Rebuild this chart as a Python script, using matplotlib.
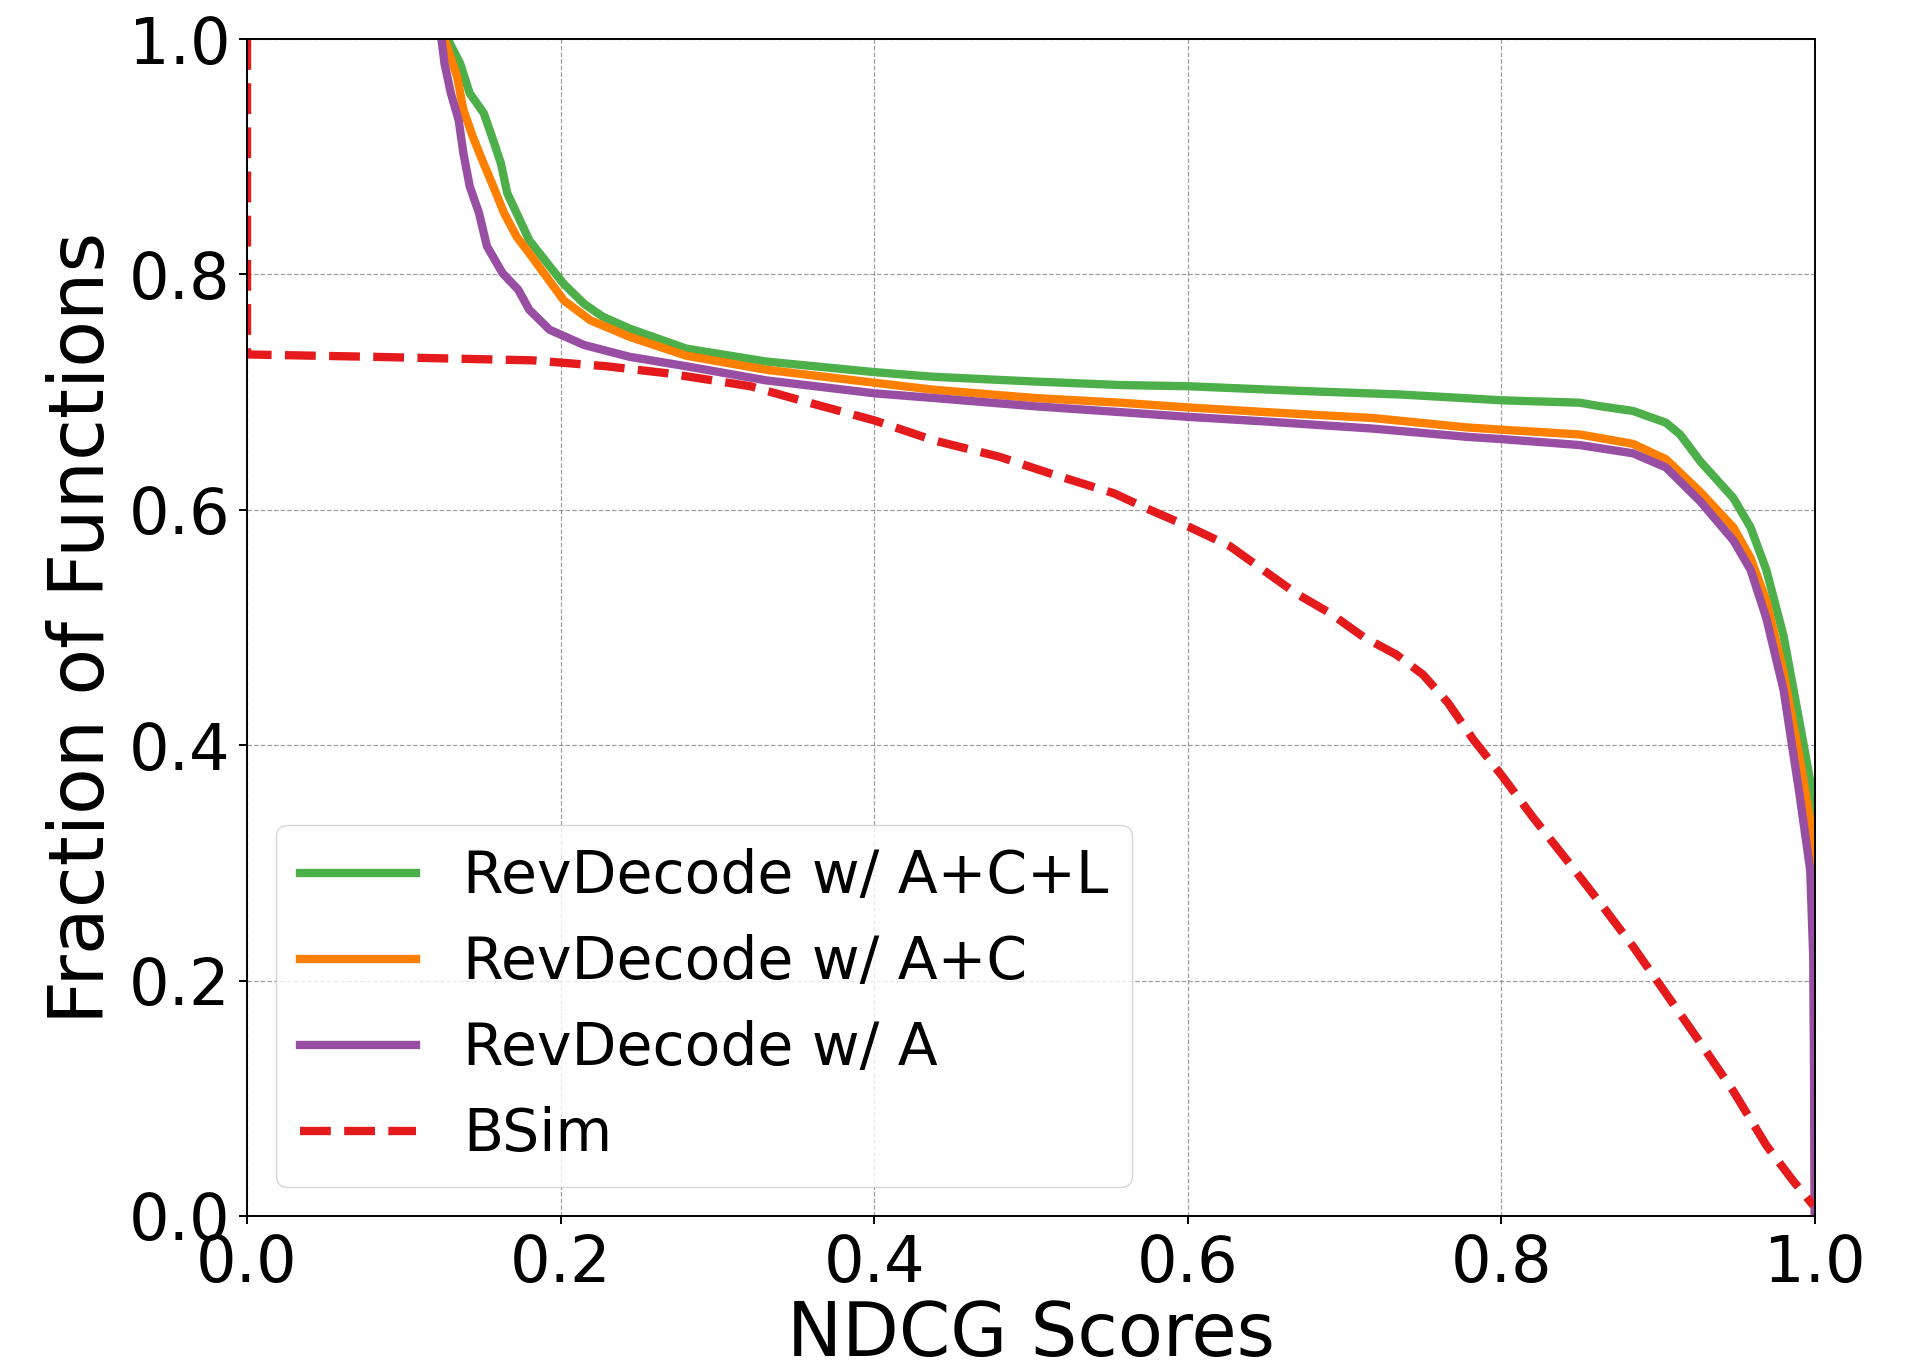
import matplotlib
matplotlib.use("Agg")
import matplotlib.pyplot as plt

# survival curves: fraction of functions with NDCG >= x
acl_x = [0.128, 0.136, 0.142, 0.151, 0.157, 0.162, 0.166, 0.172, 0.180, 0.193,
         0.202, 0.215, 0.227, 0.244, 0.280, 0.331, 0.400, 0.438, 0.502, 0.557,
         0.600, 0.672, 0.735, 0.801, 0.850, 0.863, 0.884, 0.905, 0.914, 0.927,
         0.948, 0.959, 0.969, 0.980, 0.990, 0.999, 1.000]
acl_y = [1.000, 0.979, 0.954, 0.937, 0.914, 0.894, 0.869, 0.852, 0.829, 0.807,
         0.792, 0.775, 0.764, 0.754, 0.737, 0.726, 0.717, 0.713, 0.709, 0.706,
         0.705, 0.701, 0.698, 0.693, 0.691, 0.688, 0.684, 0.674, 0.664, 0.641,
         0.610, 0.585, 0.549, 0.493, 0.421, 0.355, 0.000]

ac_x = [0.126, 0.134, 0.138, 0.144, 0.151, 0.157, 0.164, 0.172, 0.180, 0.191,
        0.202, 0.219, 0.244, 0.280, 0.331, 0.400, 0.438, 0.502, 0.557, 0.600,
        0.650, 0.718, 0.778, 0.801, 0.850, 0.863, 0.884, 0.905, 0.927, 0.948,
        0.959, 0.969, 0.980, 0.990, 0.999, 1.000]
ac_y = [1.000, 0.968, 0.940, 0.917, 0.894, 0.875, 0.852, 0.832, 0.818, 0.798,
        0.778, 0.761, 0.747, 0.731, 0.719, 0.708, 0.702, 0.695, 0.691, 0.687,
        0.683, 0.678, 0.670, 0.668, 0.664, 0.661, 0.656, 0.643, 0.615, 0.585,
        0.559, 0.523, 0.462, 0.391, 0.320, 0.000]

a_x = [0.124, 0.126, 0.130, 0.135, 0.138, 0.142, 0.148, 0.153, 0.163, 0.173,
       0.180, 0.193, 0.215, 0.244, 0.280, 0.331, 0.400, 0.438, 0.502, 0.557,
       0.600, 0.650, 0.718, 0.778, 0.801, 0.850, 0.884, 0.905, 0.927, 0.948,
       0.959, 0.969, 0.980, 0.990, 0.997, 0.999, 1.000]
a_y = [1.000, 0.979, 0.954, 0.931, 0.903, 0.875, 0.852, 0.824, 0.801, 0.787,
       0.770, 0.753, 0.740, 0.730, 0.722, 0.710, 0.699, 0.695, 0.688, 0.683,
       0.679, 0.675, 0.669, 0.662, 0.660, 0.655, 0.648, 0.636, 0.607, 0.574,
       0.549, 0.508, 0.447, 0.360, 0.294, 0.218, 0.000]

bsim_x = [0.000, 0.000, 0.080, 0.182, 0.229, 0.268, 0.321, 0.353, 0.400, 0.438,
          0.480, 0.512, 0.553, 0.574, 0.600, 0.627, 0.648, 0.669, 0.691, 0.712,
          0.733, 0.750, 0.766, 0.782, 0.801, 0.820, 0.842, 0.863, 0.884, 0.905,
          0.927, 0.948, 0.969, 0.986, 0.999]
bsim_y = [1.000, 0.732, 0.730, 0.727, 0.722, 0.716, 0.705, 0.693, 0.676, 0.659,
          0.645, 0.631, 0.614, 0.601, 0.586, 0.569, 0.549, 0.529, 0.512, 0.492,
          0.477, 0.460, 0.436, 0.405, 0.373, 0.339, 0.302, 0.266, 0.229, 0.189,
          0.147, 0.106, 0.060, 0.030, 0.009]

labels = ["RevDecode w/ A+C+L", "RevDecode w/ A+C", "RevDecode w/ A", "BSim"]

fig = plt.figure(figsize=(19.06, 13.65), dpi=100)
ax = fig.add_axes([0.1296, 0.1092, 0.8226, 0.8622])

lw = 6
ax.plot(acl_x, acl_y, color="#4daf4a", lw=lw, label=labels[0])
ax.plot(ac_x, ac_y, color="#ff7f00", lw=lw, label=labels[1])
ax.plot(a_x, a_y, color="#984ea3", lw=lw, label=labels[2])
ax.plot(bsim_x, bsim_y, color="#e41a1c", lw=lw, ls="--", label=labels[3])

ax.set_xlim(0, 1)
ax.set_ylim(0, 1)
ax.set_xticks([0.0, 0.2, 0.4, 0.6, 0.8, 1.0])
ax.set_yticks([0.0, 0.2, 0.4, 0.6, 0.8, 1.0])
ax.tick_params(labelsize=46, length=6, width=1.4, pad=6)
for s in ax.spines.values():
    s.set_linewidth(1.4)

ax.grid(True, linestyle="--", linewidth=0.9, color="gray", alpha=0.75)
ax.set_xlabel("NDCG Scores", fontsize=53, labelpad=3)
ax.set_ylabel("Fraction of Functions", fontsize=55, labelpad=6)

ax.legend(loc="lower left", fontsize=42)

fig.savefig("out.png", dpi=100)
